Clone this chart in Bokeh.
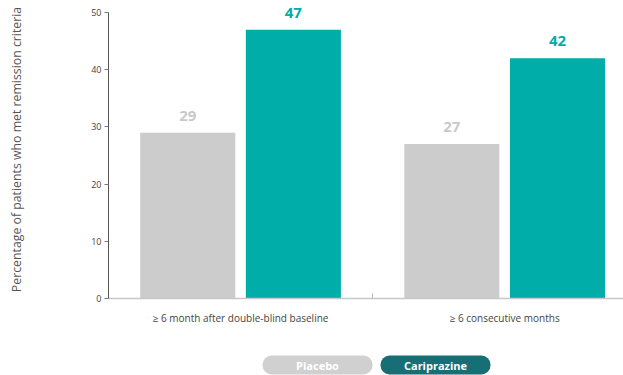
from bokeh.plotting import figure
from bokeh.models import ColumnDataSource, Range1d, FixedTicker
from bokeh.layouts import column
from bokeh.embed import file_html
from bokeh.resources import INLINE
from bokeh.core.properties import value

categories = ["\u2265 6 month after double-blind baseline", "\u2265 6 consecutive months"]
series = ["Placebo", "Cariprazine"]
placebo = [29, 27]
cariprazine = [47, 42]
y_ticks = [0, 10, 20, 30, 40, 50]

bar_colors = ["#cccccc", "#00ada9"]
label_colors = ["#c9c9c9", "#00ada9"]
pill_colors = ["#d0d0d0", "#176e74"]
FONT = "Open Sans"

centers = [i + 0.5 for i in range(len(categories))]
offsets = [-0.2, 0.2]

p = figure(width=623, height=350, output_backend="svg", toolbar_location=None,
           x_range=Range1d(0, 1.95), y_range=Range1d(0, 52.1),
           min_border_left=108, min_border_right=0, min_border_top=0, min_border_bottom=52)
p.outline_line_color = None
p.xgrid.visible = False
p.ygrid.visible = False
p.background_fill_color = "white"
p.border_fill_color = "white"

for vals, col, lcol, off in zip([placebo, cariprazine], bar_colors, label_colors, offsets):
    src = ColumnDataSource(dict(x=[c + off for c in centers], top=vals,
                                lab=[str(v) for v in vals]))
    p.vbar(x="x", top="top", width=0.36, bottom=0, source=src, fill_color=col, line_color=None)
    p.text(x="x", y="top", text="lab", source=src, text_align="center", text_baseline="bottom",
           y_offset=-12, text_font=value(FONT), text_font_style="bold", text_font_size="15px",
           text_color=lcol)

# x axis
xa = p.xaxis[0]
xa.ticker = FixedTicker(ticks=centers, minor_ticks=[1.0])
xa.major_label_overrides = {c: lab for c, lab in zip(centers, categories)}
xa.axis_line_color = "#c8c8c8"
xa.axis_line_width = 1.5
xa.major_tick_line_color = None
xa.minor_tick_line_color = "#b8b8b8"
xa.minor_tick_in = 5
xa.minor_tick_out = 0
xa.major_label_standoff = 6
xa.major_label_text_font = FONT
xa.major_label_text_font_size = "10px"
xa.major_label_text_color = "#444444"

# y axis
ya = p.yaxis[0]
ya.ticker = FixedTicker(ticks=y_ticks)
ya.bounds = (0, 50)
ya.axis_label = "Percentage of patients who met remission criteria"
ya.axis_label_text_font = FONT
ya.axis_label_text_font_size = "12.3px"
ya.axis_label_text_font_style = "normal"
ya.axis_label_text_color = "#555555"
ya.axis_label_standoff = 63
ya.axis_line_color = "#555555"
ya.major_tick_line_color = "#777777"
ya.major_tick_out = 4
ya.major_tick_in = 0
ya.minor_tick_line_color = None
ya.major_label_standoff = 3
ya.major_label_text_font = FONT
ya.major_label_text_font_size = "9px"
ya.major_label_text_color = "#444444"

# legend pills (frame aligned with main plot frame: screen px 108..623)
lg = figure(width=623, height=25, output_backend="svg", toolbar_location=None,
            x_range=Range1d(108, 623), y_range=Range1d(0, 25),
            min_border=0, min_border_left=108, x_axis_type=None, y_axis_type=None)
lg.outline_line_color = None
lg.xgrid.visible = False
lg.ygrid.visible = False
pill_w = 110
pill_gap = 8
start = 262
lefts = [start + i * (pill_w + pill_gap) for i in range(len(series))]
lsrc = ColumnDataSource(dict(left=lefts, right=[l + pill_w for l in lefts],
                             cx=[l + pill_w / 2 for l in lefts], name=series, color=pill_colors))
lg.quad(left="left", right="right", bottom=1, top=20, source=lsrc, fill_color="color",
        line_color=None, border_radius=9)
lg.text(x="cx", y=10.5, text="name", source=lsrc, text_align="center", text_baseline="middle",
        text_font=value(FONT), text_font_style="bold", text_font_size="11px", text_color="white")

layout = column(p, lg, spacing=0)
open("out.html", "w").write(file_html(layout, INLINE))
